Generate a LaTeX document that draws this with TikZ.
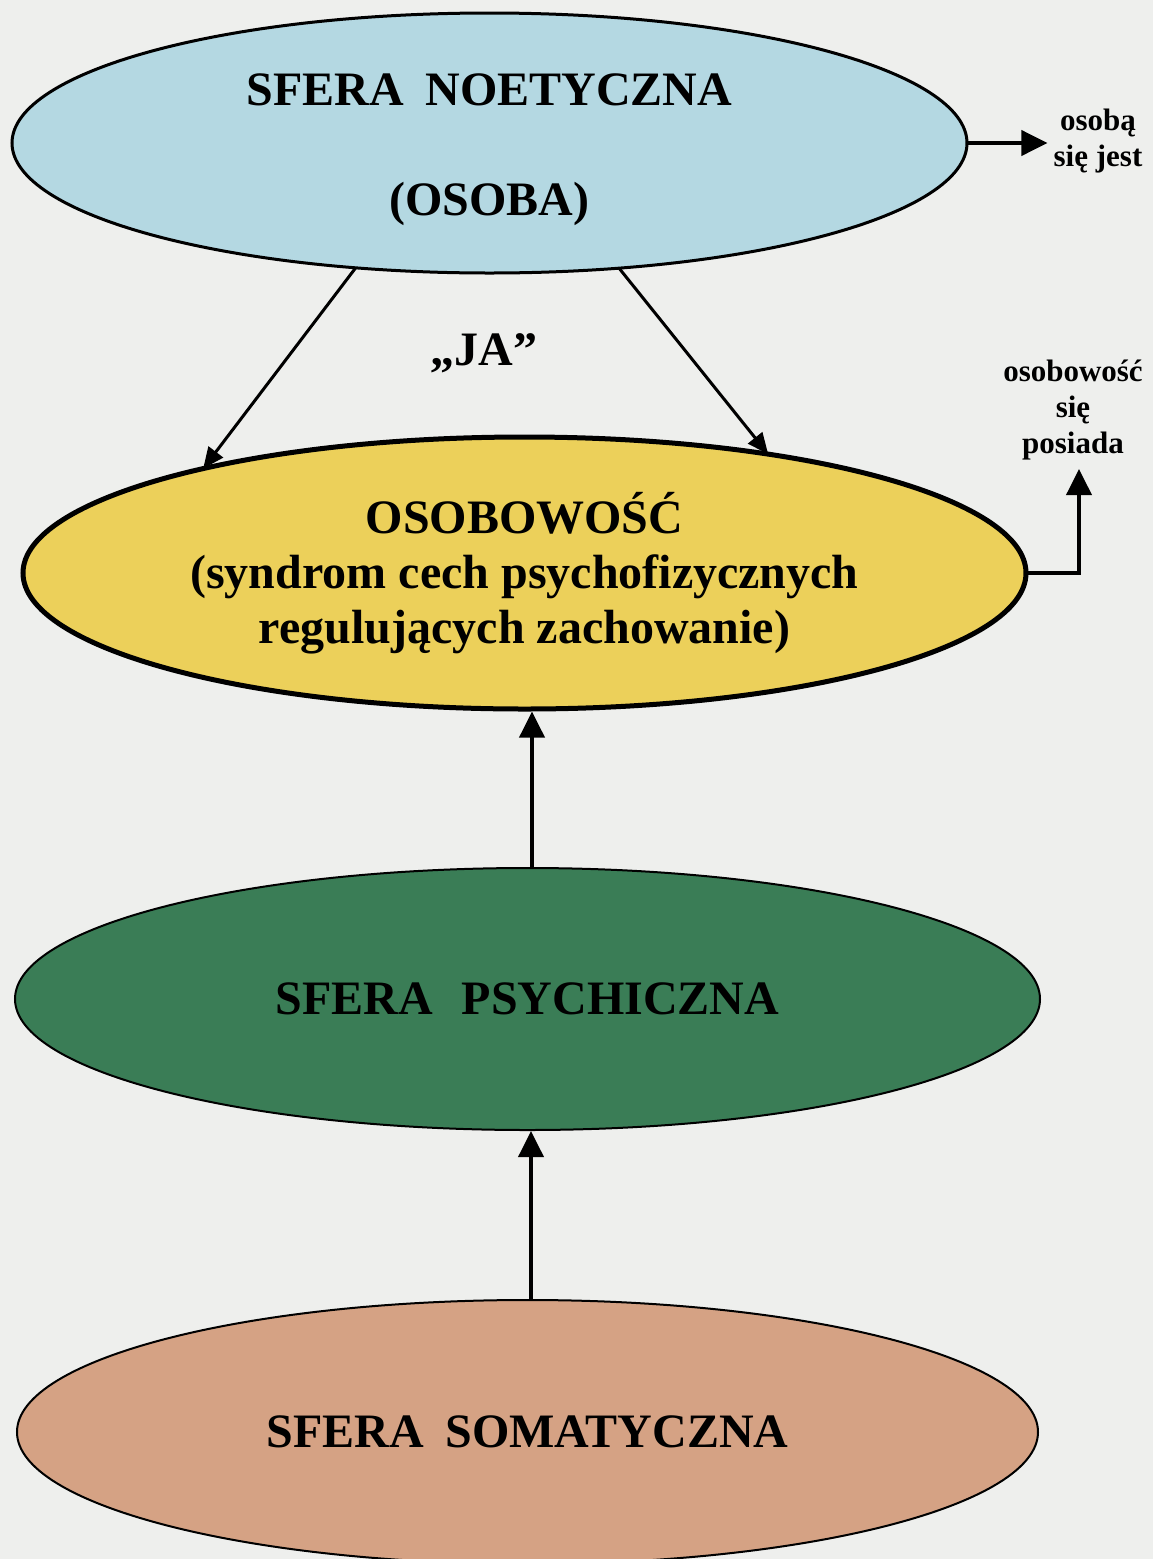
\documentclass[tikz,border=0pt]{standalone}
\usepackage{fontspec}
\setmainfont{Liberation Serif}
\usetikzlibrary{shapes.geometric,arrows.meta,calc}
\definecolor{bgc}{HTML}{EEEFED}
\definecolor{bluec}{HTML}{B4D8E2}
\definecolor{yellowc}{HTML}{ECD05A}
\definecolor{greenc}{HTML}{3A7D56}
\definecolor{salmonc}{HTML}{D5A284}
\tikzset{
  sphere/.style={ellipse, inner sep=0pt, outer sep=0pt, align=center, text=black},
  bigtxt/.style={font=\bfseries\fontsize{48}{56}\selectfont},
  smalltxt/.style={font=\bfseries\fontsize{31}{36}\selectfont, align=center, inner sep=0pt},
  arr/.style={line width=3.8pt, -{Triangle[length=26pt,width=25pt]}},
  darr/.style={line width=3pt, -{Triangle[length=21pt,width=18pt]}},
}
\begin{document}
\begin{tikzpicture}[x=1pt,y=-1pt]
\useasboundingbox (0,0) rectangle (1153,1559);
\fill[bgc] (0,0) rectangle (1153,1559);
\clip (0,0) rectangle (1153,1559);

\node[sphere, fill=bluec, draw, line width=3pt, minimum width=955pt, minimum height=260pt,
      font=\bfseries\fontsize{48}{110}\selectfont] (blue) at (489.5,143)
  {\rule{0pt}{46pt}SFERA\hspace{0.45em}NOETYCZNA\\(OSOBA)};

\node[sphere, fill=yellowc, draw, line width=5pt, minimum width=1003pt, minimum height=272pt,
      font=\bfseries\fontsize{48}{55}\selectfont] (yellow) at (524.5,573)
  {OSOBOWOŚĆ\\(syndrom cech psychofizycznych\\regulujących zachowanie)};

\node[sphere, fill=greenc, draw, line width=2pt, minimum width=1025pt, minimum height=262pt, bigtxt] (green) at (527.5,999)
  {SFERA\hspace{0.6em}PSYCHICZNA};

\node[sphere, fill=salmonc, draw, line width=2pt, minimum width=1021pt, minimum height=264pt, bigtxt] (salmon) at (527.5,1432)
  {SFERA\hspace{0.45em}SOMATYCZNA};

\node[bigtxt, inner sep=0pt] (ja) at (484,353) {„JA”};

\node[smalltxt] (osoba) at (1098,141) {osobą\\się jest};
\node[smalltxt] (osobowosc) at (1073,410) {osobowość\\się\\posiada};

\coordinate (c2) at (1079,469);

\draw[arr] (blue.east) -- ($(blue.east -| osoba.west)+(-6,0)$);
\draw[arr] (yellow.east) -| (c2);

\draw[darr] (blue.223.5) -- (yellow.162.6);
\draw[darr] (blue.316.4) -- (yellow.26);

\draw[arr] ($(green.north)+(4.5,0)$) -- ($(yellow.south)+(7.5,2.5)$);
\draw[arr] ($(salmon.north)+(3.5,0)$) -- ($(green.south)+(3.5,1)$);
\end{tikzpicture}
\end{document}
